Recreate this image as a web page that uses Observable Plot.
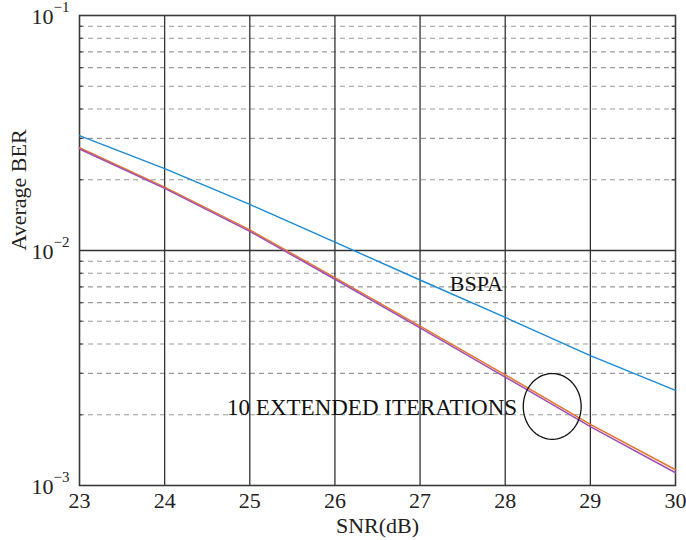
<!DOCTYPE html>
<html><head><meta charset="utf-8">
<script src="https://cdn.jsdelivr.net/npm/d3@7"></script>
<script src="https://cdn.jsdelivr.net/npm/@observablehq/plot@0.6"></script>
<style>body{margin:0;background:#fff}</style>
</head><body><div id="chart"></div>
<script>
const snr = [23, 24, 25, 26, 27, 28, 29, 30];
const berBSPA = [0.0308, 0.0223, 0.0157, 0.01085, 0.00749, 0.00519, 0.00357, 0.00254];
const berExtA = [0.0272, 0.0185, 0.01216, 0.00762, 0.00474, 0.00294, 0.00181, 0.00116];
const berExtB = [0.0272, 0.0185, 0.01213, 0.00759, 0.00471, 0.00291, 0.00179, 0.00114];
const xTicks = [23, 24, 25, 26, 27, 28, 29, 30];
const yMajor = [1e-3, 1e-2, 1e-1];
const yTickBase = ["10", "10", "10"];
const yTickExp = ["−3", "−2", "−1"];
const yMinor = [2e-3, 3e-3, 4e-3, 5e-3, 6e-3, 7e-3, 8e-3, 9e-3, 2e-2, 3e-2, 4e-2, 5e-2, 6e-2, 7e-2, 8e-2, 9e-2];
const labelBSPA = {x: 27.66, y: 0.00724, text: "BSPA"};
const labelExt = {x: 28.14, y: 0.00215, text: "10 EXTENDED ITERATIONS"};
const ellipse = {cx: 28.552, cy: 0.00217, rx: 0.34, ryDecades: 0.14};

const font = "'Liberation Serif', 'DejaVu Serif', serif";
const rows = (ys) => snr.map((x, i) => ({x, y: ys[i]}));
const ellipsePts = d3.range(0, 361, 4).map(a => {
  const t = a * Math.PI / 180;
  return {x: ellipse.cx + ellipse.rx * Math.cos(t),
          y: Math.pow(10, Math.log10(ellipse.cy) + ellipse.ryDecades * Math.sin(t))};
});

const chart = Plot.plot({
  width: 686, height: 540,
  marginLeft: 79, marginRight: 11, marginTop: 15, marginBottom: 55,
  style: {fontFamily: font, fontSize: "23px", color: "#222", background: "#fff"},
  x: {domain: [23, 30]},
  y: {type: "log", domain: [1e-3, 1e-1]},
  marks: [
    Plot.ruleY(yMinor, {stroke: "#999", strokeWidth: 1.2, strokeDasharray: "5,4"}),
    Plot.ruleY([1e-2], {stroke: "#333", strokeWidth: 1.3}),
    Plot.ruleX(xTicks.slice(1, -1), {stroke: "#333", strokeWidth: 1.3}),
    Plot.ruleY(yMinor, {x1: 23, x2: 23.04, stroke: "#333", strokeWidth: 1.2}),
    Plot.ruleY(yMinor, {x1: 29.96, x2: 30, stroke: "#333", strokeWidth: 1.2}),
    Plot.frame({stroke: "#3a3a3a", strokeWidth: 1.6}),
    Plot.line(rows(berBSPA), {x: "x", y: "y", stroke: "#1a8ad4", strokeWidth: 1.4}),
    Plot.line(rows(berExtA), {x: "x", y: "y", stroke: "#e8742a", strokeWidth: 1.5, dy: -0.6}),
    Plot.line(rows(berExtB), {x: "x", y: "y", stroke: "#9b4fb4", strokeWidth: 1.5, dy: 0.6}),
    Plot.line(ellipsePts, {x: "x", y: "y", stroke: "#111", strokeWidth: 1.3}),
    Plot.text([labelBSPA], {x: "x", y: "y", text: "text", textAnchor: "middle", fontSize: 22, fill: "#111"}),
    Plot.text([labelExt], {x: "x", y: "y", text: "text", textAnchor: "end", fontSize: 23, fill: "#111"}),
    Plot.axisX({ticks: xTicks, tickSize: 0, tickPadding: 7, tickFormat: d => String(d), fontSize: 22, label: null}),
    Plot.axisY({ticks: [], label: null}),
    Plot.text(yMajor, {x: 23, y: d => d, text: (d, i) => yTickBase[i], textAnchor: "end", dx: -26, dy: 1, fontSize: 22}),
    Plot.text(yMajor, {x: 23, y: d => d, text: (d, i) => yTickExp[i], textAnchor: "start", dx: -26, dy: -8, fontSize: 15}),
    Plot.text(["SNR(dB)"], {frameAnchor: "bottom", dy: 47, fontSize: 22}),
    Plot.text(["Average BER"], {frameAnchor: "left", rotate: -90, dx: -61, fontSize: 22})
  ]
});
document.getElementById("chart").appendChild(chart);
</script>
</body></html>
